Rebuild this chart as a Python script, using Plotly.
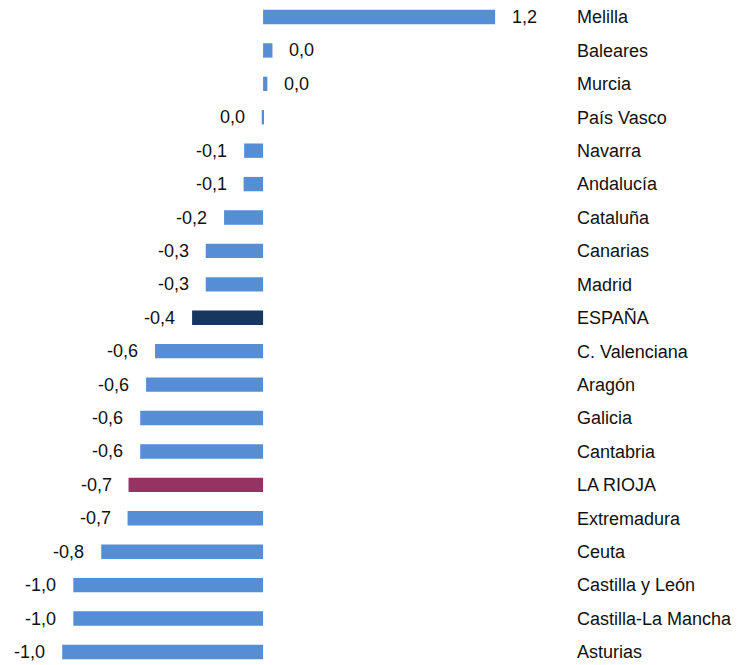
import plotly.graph_objects as go

regions = ["Melilla", "Baleares", "Murcia", "País Vasco", "Navarra", "Andalucía",
           "Cataluña", "Canarias", "Madrid", "ESPAÑA", "C. Valenciana", "Aragón",
           "Galicia", "Cantabria", "LA RIOJA", "Extremadura", "Ceuta",
           "Castilla y León", "Castilla-La Mancha", "Asturias"]
values = [1.19, 0.048, 0.022, -0.007, -0.097, -0.10, -0.20, -0.294, -0.294, -0.364,
          -0.554, -0.60, -0.63, -0.63, -0.69, -0.695, -0.83, -0.973, -0.973, -1.03]

BLUE, NAVY, WINE = "#558ED5", "#17375E", "#963363"
special = {"ESPAÑA": NAVY, "LA RIOJA": WINE}
colors = [special.get(r, BLUE) for r in regions]
FONT = dict(family="Liberation Sans, Arial, sans-serif", size=18, color="#111111")


def fmt(v):
    return f"{round(v, 1) + 0.0:.1f}".replace(".", ",")


fig = go.Figure(go.Bar(
    x=values, y=regions, orientation="h",
    marker=dict(color=colors, line=dict(width=0)),
    width=0.43, hoverinfo="skip",
))

# value labels sit a fixed gap away from the end of each bar
for r, v in zip(regions, values):
    neg = v < 0
    fig.add_annotation(x=v, y=r, text=fmt(v), showarrow=False, font=FONT,
                       xanchor="right" if neg else "left",
                       xshift=-15 if neg else 15, yanchor="middle")

# page body has an 8px margin, so the figure is 8px smaller each way
fig.update_layout(
    width=740, height=657, autosize=False,
    margin=dict(l=0, r=177, t=0, b=0),
    plot_bgcolor="#FFFFFF", paper_bgcolor="#FFFFFF",
    showlegend=False, font=FONT,
    xaxis=dict(range=[-1.308, 1.579], visible=False, showgrid=False, zeroline=False),
    yaxis=dict(type="category", categoryorder="array", categoryarray=regions,
               range=[19.39, -0.269], side="right", showgrid=False,
               zeroline=False, showline=False, ticks="", ticklabelstandoff=5,
               tickfont=FONT),
)

fig.write_html("out.html")
